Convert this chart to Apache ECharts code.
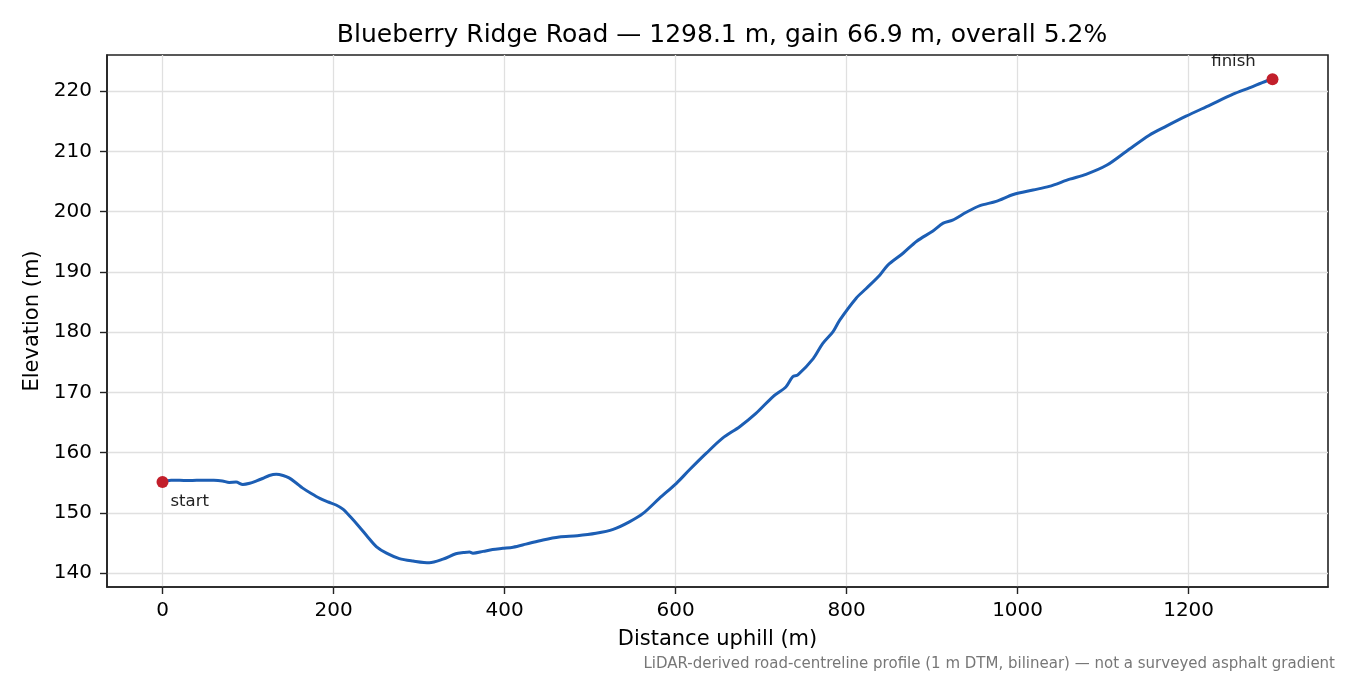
<!DOCTYPE html>
<html lang="en">
<head>
    <meta charset="UTF-8">
    <title>Blueberry Ridge Road</title>
    <script src="https://cdn.jsdelivr.net/npm/echarts@6/dist/echarts.min.js"></script>
    <style>
        html, body { margin: 0; padding: 0; background: #fff; }
        #profile { width: 1350px; height: 675px; }
    </style>
</head>
<body>
<div id="profile"></div>
<script type="text/javascript">
    // profile: distance along the road (m) and elevation (m)
    var distance = [0, 10, 20, 30, 40, 50, 60, 70, 78, 86, 94, 102, 110, 117, 125, 133, 141, 148, 156, 164,
        174, 184, 194, 203, 211, 220, 230, 240, 250, 262, 277, 293, 312, 328, 343, 352, 359, 363, 375, 386,
        398, 410, 425, 445, 464, 485, 507, 527, 546, 562, 581, 601, 616, 636, 655, 675, 694, 714, 729, 737,
        743, 761, 772, 784, 792, 811, 823, 839, 848, 866, 882, 901, 913, 924, 940, 956, 975, 995, 1018, 1037,
        1061, 1080, 1104, 1127, 1154, 1174, 1197, 1225, 1252, 1271, 1291, 1298.1];
    var elevation = [155.1, 155.4, 155.4, 155.35, 155.4, 155.4, 155.4, 155.3, 155.05, 155.1, 154.7, 154.9, 155.3, 155.7, 156.2, 156.4, 156.2, 155.8, 155.0, 154.1,
        153.2, 152.4, 151.8, 151.3, 150.6, 149.3, 147.7, 146.0, 144.4, 143.3, 142.4, 142.0, 141.7, 142.3, 143.2, 143.4, 143.5, 143.3, 143.6, 143.9,
        144.1, 144.3, 144.8, 145.5, 146.0, 146.2, 146.6, 147.25, 148.5, 149.9, 152.4, 154.9, 157.1, 159.9, 162.4, 164.3, 166.5, 169.3, 170.9, 172.6,
        172.9, 175.6, 178.1, 180.05, 182.0, 185.6, 187.25, 189.5, 191.1, 193.1, 195.1, 196.8, 198.1, 198.6, 199.9, 201.0, 201.7, 202.85, 203.6, 204.2,
        205.4, 206.2, 207.7, 210.0, 212.7, 214.2, 215.85, 217.7, 219.5, 220.55, 221.7, 222.0];
    var xTicks = [0, 200, 400, 600, 800, 1000, 1200];
    var yTicks = [140, 150, 160, 170, 180, 190, 200, 210, 220];
    var endLabels = ['start', 'finish'];

    var font = 'DejaVu Sans';
    var line = [];
    for (var i = 0; i < distance.length; i++) {
        line.push([distance[i], elevation[i]]);
    }
    var last = distance.length - 1;
    var total = distance[last];
    var gain = elevation[last] - elevation[0];

    // matplotlib-like 5% margins around the data
    var xPad = total * 0.05;
    var yMin = Math.min.apply(null, elevation), yMax = Math.max.apply(null, elevation);
    var yPad = (yMax - yMin) * 0.05;

    var chart = echarts.init(document.getElementById('profile'));
    var option = {
        backgroundColor: '#ffffff',
        animation: false,
        title: [{
            text: 'Blueberry Ridge Road \u2014 ' + total.toFixed(1) + ' m, gain ' + gain.toFixed(1) +
                ' m, overall ' + (gain / total * 100).toFixed(1) + '%',
            left: 717, top: 18, textAlign: 'center',
            textStyle: {fontFamily: font, fontSize: 25, fontWeight: 'normal', color: '#000'}
        }, {
            text: 'LiDAR-derived road-centreline profile (1 m DTM, bilinear) \u2014 not a surveyed asphalt gradient',
            right: 10, top: 652,
            textStyle: {fontFamily: font, fontSize: 15, fontWeight: 'normal', color: '#777'}
        }],
        grid: {
            left: 107, right: 22, top: 55, bottom: 88,
            show: true, borderColor: '#222', borderWidth: 1.6, backgroundColor: 'transparent'
        },
        xAxis: {
            type: 'value',
            min: -xPad, max: total + xPad,
            name: 'Distance uphill (m)',
            nameLocation: 'middle', nameGap: 42,
            nameTextStyle: {fontFamily: font, fontSize: 21, color: '#000'},
            axisLine: {show: true, onZero: false, lineStyle: {color: '#222', width: 1.6}},
            axisTick: {show: true, inside: false, length: 7, customValues: xTicks, lineStyle: {color: '#222', width: 1.4}},
            axisLabel: {customValues: xTicks, margin: 14, fontFamily: font, fontSize: 20, color: '#000',
                formatter: function (v) { return String(v); }},
            splitLine: {show: true, lineStyle: {color: '#e0e0e0', width: 1.3}}
        },
        yAxis: {
            type: 'value',
            min: yMin - yPad, max: yMax + yPad,
            name: 'Elevation (m)',
            nameLocation: 'middle', nameGap: 62,
            nameTextStyle: {fontFamily: font, fontSize: 21, color: '#000'},
            axisLine: {show: true, onZero: false, lineStyle: {color: '#222', width: 1.6}},
            axisTick: {show: true, inside: false, length: 7, customValues: yTicks, lineStyle: {color: '#222', width: 1.4}},
            axisLabel: {customValues: yTicks, margin: 15, fontFamily: font, fontSize: 20, color: '#000',
                formatter: function (v) { return String(v); }},
            splitLine: {show: true, lineStyle: {color: '#e0e0e0', width: 1.3}}
        },
        series: [{
            type: 'line',
            data: line,
            showSymbol: false,
            smooth: 0.3,
            lineStyle: {color: '#1c5eb4', width: 3},
            z: 3
        }, {
            type: 'scatter',
            symbolSize: 12,
            itemStyle: {color: '#c21f2b', opacity: 1},
            z: 4,
            data: [{
                value: line[0],
                label: {show: true, formatter: endLabels[0], position: 'inside', offset: [8, 20], align: 'left'}
            }, {
                value: line[last],
                label: {show: true, formatter: endLabels[1], position: 'inside', offset: [-39, -17], align: 'center'}
            }],
            label: {fontFamily: font, fontSize: 16.5, color: '#222', verticalAlign: 'middle'}
        }]
    };
    chart.setOption(option);
</script>
</body>
</html>
